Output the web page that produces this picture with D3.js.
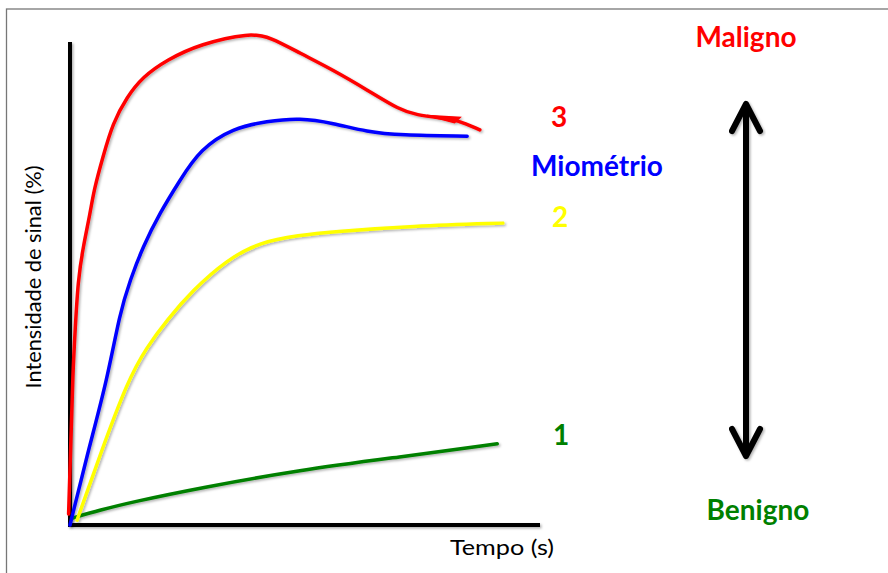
<!DOCTYPE html>
<html>
<head>
<meta charset="utf-8">
<script src="https://cdn.jsdelivr.net/npm/d3@7"></script>
<style>
  html, body { margin: 0; padding: 0; background: #fff; }
  text { font-family: Lato, "Open Sans", sans-serif; }
</style>
</head>
<body>
<script>
// curve values (time 0-100, signal 0-100)
const tempoMaligno = [-0.3, 0.2, 0.6, 1.1, 1.7, 2.8, 4.3, 5.1, 7.0, 9.1, 12.1, 15.5, 20.6, 27.7, 38.3, 42.6, 48.9, 56.0, 63.2, 70.2, 73.8, 78.7, 82.3, 87.2];
const sinalMaligno = [2.3, 17.6, 31.5, 40.4, 50.7, 57.6, 64.6, 69.4, 76.2, 83.2, 88.6, 92.8, 96.3, 99.6, 101.9, 101.0, 97.7, 94.2, 90.1, 85.9, 84.9, 84.3, 83.9, 81.8];

const tempoMiometrio = [0, 3.8, 7.9, 10.6, 12.8, 15.5, 19.1, 23.4, 27.7, 34.7, 41.9, 48.9, 56.0, 63.2, 70.2, 84.5];
const sinalMiometrio = [0, 15.1, 30.0, 43.9, 50.7, 57.6, 64.6, 71.4, 77.8, 82.2, 83.6, 84.3, 83.2, 81.4, 80.7, 80.5];

const tempoTipo2 = [1.5, 6.2, 12.3, 16.4, 20.6, 26.2, 33.4, 40.4, 48.9, 55.3, 73.0, 92.1];
const sinalTipo2 = [1.0, 14.0, 30.0, 36.9, 42.4, 48.7, 54.9, 58.6, 60.0, 60.7, 61.9, 62.5];

const tempoTipo1 = [0.4, 6.4, 13.4, 27.7, 48.9, 70.2, 90.9];
const sinalTipo1 = [1.4, 3.1, 4.8, 7.7, 11.4, 14.1, 16.8];

const curveColors = ['#ff0000', '#0000ff', '#ffff00', '#008000'];

// labels at the right end of the curves
const labelTexts = ['3', 'Miométrio', '2', '1'];
const labelColors = ['#ff0000', '#0000ff', '#ffff00', '#008000'];

const W = 888, H = 573;

const svg = d3.select('body').append('svg')
  .attr('width', W)
  .attr('height', H);

const defs = svg.append('defs');
defs.append('filter')
  .attr('id', 'shadow')
  .attr('x', '-10%').attr('y', '-10%')
  .attr('width', '130%').attr('height', '130%')
  .append('feDropShadow')
  .attr('dx', 1.5)
  .attr('dy', 1.5)
  .attr('stdDeviation', 1)
  .attr('flood-color', '#000')
  .attr('flood-opacity', 0.3);

// frame (only top and left visible)
svg.append('rect')
  .attr('x', 6.5).attr('y', 9)
  .attr('width', W + 20).attr('height', H + 20)
  .attr('fill', 'none')
  .attr('stroke', '#777')
  .attr('stroke-width', 1.3);

const x = d3.scaleLinear().domain([0, 100]).range([70, 540]);
const y = d3.scaleLinear().domain([0, 100]).range([525, 42]);

// axes, drawn as plain lines without ticks
const gAxis = svg.append('g')
  .attr('stroke', '#000')
  .attr('stroke-width', 4)
  .attr('filter', 'url(#shadow)');

gAxis.append('line')
  .attr('x1', x(0)).attr('x2', x(0))
  .attr('y1', y(100)).attr('y2', y(0) + 2);
gAxis.append('line')
  .attr('x1', x(0) - 2).attr('x2', x(100))
  .attr('y1', y(0)).attr('y2', y(0));

const series = [
  [tempoMaligno, sinalMaligno],
  [tempoMiometrio, sinalMiometrio],
  [tempoTipo2, sinalTipo2],
  [tempoTipo1, sinalTipo1]
];

const line = d3.line()
  .x(d => x(d[0]))
  .y(d => y(d[1]))
  .curve(d3.curveBasis);

const gCurves = svg.append('g')
  .attr('fill', 'none')
  .attr('stroke-width', 3.5)
  .attr('stroke-linecap', 'round')
  .attr('filter', 'url(#shadow)');

// draw bottom curve first so red stays on top
series.slice().reverse().forEach(function ([ts, vs], k) {
  const i = series.length - 1 - k;
  gCurves.append('path')
    .attr('d', line(d3.zip(ts, vs)))
    .attr('stroke', curveColors[i]);
});

// small arrow tip sitting on the red curve
gCurves.append('path')
  .attr('d', `M${x(76)},${y(84.8)} L${x(83)},${y(84.4)} L${x(81.8)},${y(83.3)} Z`)
  .attr('fill', '#ff0000')
  .attr('stroke', '#ff0000')
  .attr('stroke-width', 1.5);

// axis titles
svg.append('text')
  .attr('transform', 'translate(41,277) rotate(-90)')
  .attr('text-anchor', 'middle')
  .attr('font-size', 21)
  .attr('textLength', 223)
  .attr('lengthAdjust', 'spacingAndGlyphs')
  .attr('fill', '#000')
  .text('Intensidade de sinal (%)');

svg.append('text')
  .attr('x', 502)
  .attr('y', 555)
  .attr('text-anchor', 'middle')
  .attr('font-size', 21)
  .attr('textLength', 104)
  .attr('lengthAdjust', 'spacingAndGlyphs')
  .attr('fill', '#000')
  .text('Tempo (s)');

// curve labels
const labelX = [559, 597, 560, 561];
const labelY = [127, 176, 227, 445];
labelTexts.forEach(function (t, i) {
  svg.append('text')
    .attr('x', labelX[i])
    .attr('y', labelY[i])
    .attr('text-anchor', 'middle')
    .attr('font-size', 28)
    .attr('font-weight', 'bold')
    .attr('fill', labelColors[i])
    .text(t);
});

// scale from benign to malignant
svg.append('text')
  .attr('x', 746).attr('y', 47)
  .attr('text-anchor', 'middle')
  .attr('font-size', 28)
  .attr('font-weight', 'bold')
  .attr('fill', '#ff0000')
  .text('Maligno');

svg.append('text')
  .attr('x', 758).attr('y', 520)
  .attr('text-anchor', 'middle')
  .attr('font-size', 28)
  .attr('font-weight', 'bold')
  .attr('fill', '#008000')
  .text('Benigno');

const gArrow = svg.append('g')
  .attr('fill', 'none')
  .attr('stroke', '#000')
  .attr('stroke-width', 6)
  .attr('stroke-linecap', 'round')
  .attr('stroke-linejoin', 'round')
  .attr('filter', 'url(#shadow)');

gArrow.append('line')
  .attr('x1', 746).attr('x2', 746)
  .attr('y1', 106).attr('y2', 454);
gArrow.append('path').attr('d', 'M732,131 L746,104 L760,131');
gArrow.append('path').attr('d', 'M732,429 L746,456 L760,429');
</script>
</body>
</html>
